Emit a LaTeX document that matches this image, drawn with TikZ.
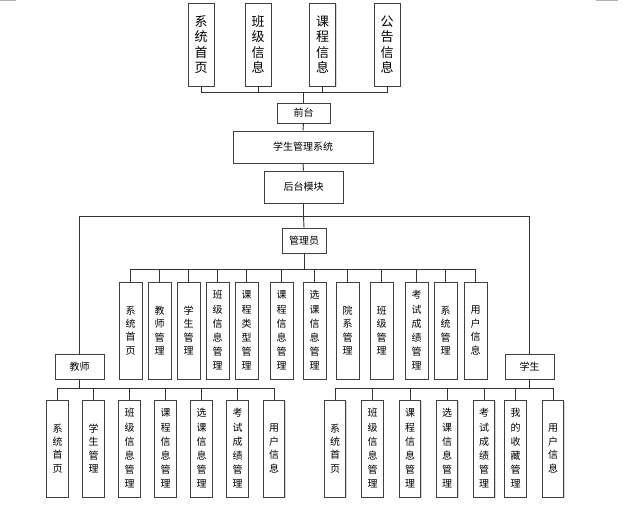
\documentclass[tikz,border=0pt]{standalone}
\usepackage{fontspec}
\setmainfont{Noto Sans CJK SC}
\usetikzlibrary{shadows}
\tikzset{
  bx/.style={draw=black!75, line width=0.9pt, fill=white, inner sep=0pt,
    drop shadow={shadow xshift=1.2pt, shadow yshift=-1.2pt, fill=black!30, opacity=0.5}},
  topbox/.style={bx, minimum width=26pt, minimum height=83pt, align=center, font=\fontsize{13}{15.4}\selectfont},
  hbox/.style={bx, align=center, font=\fontsize{10}{12}\selectfont},
  abox/.style={bx, minimum width=23pt, minimum height=97pt, align=center, font=\fontsize{10}{13.4}\selectfont},
  cbox/.style={bx, minimum width=21.5pt, minimum height=97pt, align=center, font=\fontsize{10}{13.4}\selectfont},
  six/.style={font=\fontsize{10}{14.2}\selectfont},
  link/.style={draw=black!80, line width=0.9pt},
  cornermark/.style={draw=black!30, line width=1pt}
}
\begin{document}
\begin{tikzpicture}[x=1pt,y=-1pt]
\useasboundingbox (0,0) rectangle (632,504);
% corner marks
\coordinate (m1a) at (0,0.5); \coordinate (m1b) at (16,0.5);
\coordinate (m2a) at (596,0.5); \coordinate (m2b) at (618,0.5);
\draw[cornermark] (m1a) -- (m1b);
\draw[cornermark] (m2a) -- (m2b);

% top boxes
\node[topbox] (t1) at (201,44.5) {系\\统\\首\\页};
\node[topbox] (t2) at (258,44.5) {班\\级\\信\\息};
\node[topbox] (t3) at (322.5,44.5) {课\\程\\信\\息};
\node[topbox] (t4) at (387,44.5) {公\\告\\信\\息};

\node[hbox, minimum width=53pt, minimum height=20pt] (qt) at (303.5,113) {前台};
\node[hbox, minimum width=140pt, minimum height=32pt] (sys) at (303,147) {学生管理系统};
\node[hbox, minimum width=79pt, minimum height=32pt] (ht) at (303.5,187) {后台模块};
\node[hbox, minimum width=44pt, minimum height=25pt] (gly) at (304,240.5) {管理员};
\node[hbox, minimum width=49pt, minimum height=25pt] (js) at (79.5,366.5) {教师};
\node[hbox, minimum width=49pt, minimum height=25pt] (xs) at (529.5,366.5) {学生};

% admin children
\node[abox] (a1) at (130.5,330.5) {系\\统\\首\\页};
\node[abox] (a2) at (159.5,330.5) {教\\师\\管\\理};
\node[abox] (a3) at (188.5,330.5) {学\\生\\管\\理};
\node[abox,six] (a4) at (217.5,330.5) {班\\级\\信\\息\\管\\理};
\node[abox,six] (a5) at (246.5,330.5) {课\\程\\类\\型\\管\\理};
\node[abox,six] (a6) at (281.5,330.5) {课\\程\\信\\息\\管\\理};
\node[abox,six] (a7) at (314.5,330.5) {选\\课\\信\\息\\管\\理};
\node[abox] (a8) at (347.5,330.5) {院\\系\\管\\理};
\node[abox] (a9) at (381.5,330.5) {班\\级\\管\\理};
\node[abox,six] (a10) at (416.5,330.5) {考\\试\\成\\绩\\管\\理};
\node[abox] (a11) at (445.5,330.5) {系\\统\\管\\理};
\node[abox] (a12) at (475.5,330.5) {用\\户\\信\\息};

% teacher children
\node[cbox] (c1) at (57.5,448.5) {系\\统\\首\\页};
\node[cbox] (c2) at (93.5,448.5) {学\\生\\管\\理};
\node[cbox,six] (c3) at (129.5,448.5) {班\\级\\信\\息\\管\\理};
\node[cbox,six] (c4) at (165.5,448.5) {课\\程\\信\\息\\管\\理};
\node[cbox,six] (c5) at (201.5,448.5) {选\\课\\信\\息\\管\\理};
\node[cbox,six] (c6) at (237.5,448.5) {考\\试\\成\\绩\\管\\理};
\node[cbox] (c7) at (274,448.5) {用\\户\\信\\息};

% student children
\node[cbox] (s1) at (335,448.5) {系\\统\\首\\页};
\node[cbox,six] (s2) at (372.5,448.5) {班\\级\\信\\息\\管\\理};
\node[cbox,six] (s3) at (410,448.5) {课\\程\\信\\息\\管\\理};
\node[cbox,six] (s4) at (447,448.5) {选\\课\\信\\息\\管\\理};
\node[cbox,six] (s5) at (484,448.5) {考\\试\\成\\绩\\管\\理};
\node[cbox,six] (s6) at (515.5,448.5) {我\\的\\收\\藏\\管\\理};
\node[cbox] (s7) at (553,448.5) {用\\户\\信\\息};

% bus coordinates
\coordinate (busT) at (303.5,92);
\coordinate (busH) at (303.5,216);
\coordinate (busA) at (304,269);
\coordinate (busJ) at (79.5,388);
\coordinate (busX) at (529.5,388);

% connectors
\foreach \n in {t1,t2,t3,t4} \draw[link] (\n.south) |- (busT);
\draw[link] (busT) -- (qt.north);
\draw[link] (qt.south) -- (sys.north);
\draw[link] (sys.south) -- (ht.north);
\draw[link] (ht.south) -- (busH);
\draw[link] (busH) -- (gly.north);
\draw[link] (busH) -| (js.north);
\draw[link] (busH) -| (xs.north);
\draw[link] (gly.south) -- (busA);
\foreach \n in {a1,a2,a3,a4,a5,a6,a7,a8,a9,a10,a11,a12} \draw[link] (\n.north) |- (busA);
\draw[link] (js.south) -- (busJ);
\foreach \n in {c1,c2,c3,c4,c5,c6,c7} \draw[link] (\n.north) |- (busJ);
\draw[link] (xs.south) -- (busX);
\foreach \n in {s1,s2,s3,s4,s5,s6,s7} \draw[link] (\n.north) |- (busX);
\end{tikzpicture}
\end{document}
